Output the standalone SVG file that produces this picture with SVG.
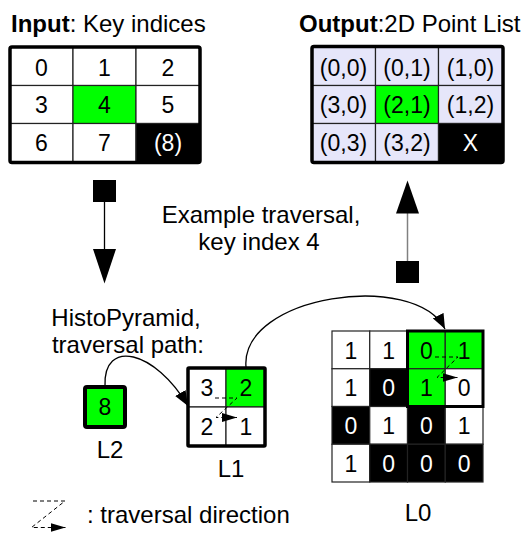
<svg xmlns="http://www.w3.org/2000/svg" width="522" height="534" viewBox="0 0 522 534">
  <defs>
    <style>
      text { font-family: "Liberation Sans", Arial, sans-serif; fill: #000; }
      .lbl { font-size: 24px; }
      .num { font-size: 23px; text-anchor: middle; }
      .inv { fill: #fff; }
      .b { font-weight: bold; }
      .cell { stroke: #222; stroke-width: 1.2; }
      .w { fill: #fff; }
      .g { fill: #00ff00; }
      .k { fill: #000; }
      .p { fill: #e6e6fa; }
      .frame { fill: none; stroke: #000; stroke-width: 3.5; }
      .curve { fill: none; stroke: #000; stroke-width: 1.3; }
      .zig { fill: none; stroke: #000; stroke-width: 1; stroke-dasharray: 4 3; }
    </style>
    <marker id="head" markerUnits="userSpaceOnUse" markerWidth="16" markerHeight="12" refX="15" refY="6" orient="auto">
      <path d="M0,0 L15,6 L0,12 z" fill="#000"/>
    </marker>
    <marker id="zhead" markerUnits="userSpaceOnUse" markerWidth="16" markerHeight="10" refX="15" refY="4.5" orient="auto">
      <path d="M0,0 L15,4.5 L0,9 z" fill="#000"/>
    </marker>
  </defs>

  <rect width="522" height="534" fill="#fff"/>

  <!-- Input: key indices -->
  <g id="input">
    <text class="lbl" x="11" y="32"><tspan class="b">Input</tspan>: Key indices</text>
    <rect class="cell w" x="10" y="47" width="63" height="38.5"/>
    <rect class="cell w" x="73" y="47" width="63" height="38.5"/>
    <rect class="cell w" x="136" y="47" width="64" height="38.5"/>
    <rect class="cell w" x="10" y="85.5" width="63" height="38"/>
    <rect class="cell g" x="73" y="85.5" width="63" height="38"/>
    <rect class="cell w" x="136" y="85.5" width="64" height="38"/>
    <rect class="cell w" x="10" y="123.5" width="63" height="39"/>
    <rect class="cell w" x="73" y="123.5" width="63" height="39"/>
    <rect class="cell k" x="136" y="123.5" width="64" height="39"/>
    <rect class="frame" x="10" y="47" width="190" height="115.5" rx="2"/>
    <text class="num" x="41.5" y="76">0</text>
    <text class="num" x="104.5" y="76">1</text>
    <text class="num" x="168" y="76">2</text>
    <text class="num" x="41.5" y="113">3</text>
    <text class="num" x="104.5" y="113">4</text>
    <text class="num" x="168" y="113">5</text>
    <text class="num" x="41.5" y="151">6</text>
    <text class="num" x="104.5" y="151">7</text>
    <text class="num inv" x="168" y="151">(8)</text>
  </g>

  <!-- Output: 2D point list -->
  <g id="output">
    <text class="lbl" x="299" y="32"><tspan class="b">Output</tspan>:2D Point List</text>
    <rect class="cell p" x="312" y="46.5" width="63.5" height="39"/>
    <rect class="cell p" x="375.5" y="46.5" width="63" height="39"/>
    <rect class="cell p" x="438.5" y="46.5" width="64.5" height="39"/>
    <rect class="cell p" x="312" y="85.5" width="63.5" height="38"/>
    <rect class="cell g" x="375.5" y="85.5" width="63" height="38"/>
    <rect class="cell p" x="438.5" y="85.5" width="64.5" height="38"/>
    <rect class="cell p" x="312" y="123.5" width="63.5" height="39"/>
    <rect class="cell p" x="375.5" y="123.5" width="63" height="39"/>
    <rect class="cell k" x="438.5" y="123.5" width="64.5" height="39"/>
    <rect class="frame" x="312" y="46.5" width="191" height="116" rx="2"/>
    <text class="num" x="343.5" y="76">(0,0)</text>
    <text class="num" x="407" y="76">(0,1)</text>
    <text class="num" x="470.5" y="76">(1,0)</text>
    <text class="num" x="343.5" y="113">(3,0)</text>
    <text class="num" x="407" y="113">(2,1)</text>
    <text class="num" x="470.5" y="113">(1,2)</text>
    <text class="num" x="343.5" y="151">(0,3)</text>
    <text class="num" x="407" y="151">(3,2)</text>
    <text class="num inv" x="470.5" y="151">X</text>
  </g>

  <g id="caption">
    <text class="lbl" x="261" y="222.5" text-anchor="middle">Example traversal,</text>
    <text class="lbl" x="259" y="249.5" text-anchor="middle">key index 4</text>
  </g>

  <g id="pyramid-caption">
    <text class="lbl" x="126" y="326" text-anchor="middle">HistoPyramid,</text>
    <text class="lbl" x="128" y="352.5" text-anchor="middle">traversal path:</text>
  </g>

  <!-- Level 2 -->
  <g id="L2">
    <rect x="85" y="387" width="40" height="40" rx="2" fill="#00ff00" stroke="#000" stroke-width="4"/>
    <text class="num" x="105" y="415">8</text>
    <text class="lbl" x="110" y="458" text-anchor="middle">L2</text>
  </g>

  <!-- Level 1 -->
  <g id="L1">
    <rect class="cell w" x="188" y="368" width="38" height="39"/>
    <rect class="cell g" x="226" y="368" width="39" height="39"/>
    <rect class="cell w" x="188" y="407" width="38" height="39"/>
    <rect class="cell w" x="226" y="407" width="39" height="39"/>
    <rect class="frame" x="188" y="368" width="77" height="78" rx="1"/>
    <text class="num" x="207" y="396">3</text>
    <text class="num" x="246" y="396">2</text>
    <text class="num" x="207" y="435">2</text>
    <text class="num" x="246" y="435">1</text>
    <text class="lbl" x="231" y="477" text-anchor="middle">L1</text>
  </g>

  <!-- Level 0 -->
  <g id="L0">
    <rect class="cell w" x="332" y="331" width="37.75" height="37.75"/>
    <rect class="cell w" x="369.75" y="331" width="37.75" height="37.75"/>
    <rect class="cell g" x="407.5" y="331" width="37.75" height="37.75"/>
    <rect class="cell g" x="445.25" y="331" width="37.75" height="37.75"/>
    <rect class="cell w" x="332" y="368.75" width="37.75" height="37.75"/>
    <rect class="cell k" x="369.75" y="368.75" width="37.75" height="37.75"/>
    <rect class="cell g" x="407.5" y="368.75" width="37.75" height="37.75"/>
    <rect class="cell w" x="445.25" y="368.75" width="37.75" height="37.75"/>
    <rect class="cell k" x="332" y="406.5" width="37.75" height="37.75"/>
    <rect class="cell w" x="369.75" y="406.5" width="37.75" height="37.75"/>
    <rect class="cell k" x="407.5" y="406.5" width="37.75" height="37.75"/>
    <rect class="cell w" x="445.25" y="406.5" width="37.75" height="37.75"/>
    <rect class="cell w" x="332" y="444.25" width="37.75" height="37.75"/>
    <rect class="cell k" x="369.75" y="444.25" width="37.75" height="37.75"/>
    <rect class="cell k" x="407.5" y="444.25" width="37.75" height="37.75"/>
    <rect class="cell k" x="445.25" y="444.25" width="37.75" height="37.75"/>
    <rect x="407.5" y="331" width="75.5" height="75.5" fill="none" stroke="#000" stroke-width="3"/>
    <text class="num" x="351" y="358.5">1</text>
    <text class="num" x="388.6" y="358.5">1</text>
    <text class="num" x="426.4" y="358.5">0</text>
    <text class="num" x="464.1" y="358.5">1</text>
    <text class="num" x="351" y="396">1</text>
    <text class="num inv" x="388.6" y="396">0</text>
    <text class="num" x="426.4" y="396">1</text>
    <text class="num" x="464.1" y="396">0</text>
    <text class="num inv" x="351" y="434">0</text>
    <text class="num" x="388.6" y="434">1</text>
    <text class="num inv" x="426.4" y="434">0</text>
    <text class="num" x="464.1" y="434">1</text>
    <text class="num" x="351" y="471.5">1</text>
    <text class="num inv" x="388.6" y="471.5">0</text>
    <text class="num inv" x="426.4" y="471.5">0</text>
    <text class="num inv" x="464.1" y="471.5">0</text>
    <text class="lbl" x="418" y="521" text-anchor="middle">L0</text>
  </g>

  <!-- Connectors -->
  <g id="connectors">
    <!-- input to traversal -->
    <rect x="93" y="180" width="23" height="22" fill="#000"/>
    <line x1="104.5" y1="202" x2="104.5" y2="250" stroke="#000" stroke-width="1.3"/>
    <polygon points="93,249 116,249 104.5,283.5" fill="#000"/>
    <!-- traversal to output -->
    <rect x="396" y="261" width="23" height="22" fill="#000"/>
    <line x1="407.5" y1="261" x2="407.5" y2="212" stroke="#808080" stroke-width="1.5"/>
    <polygon points="396,213.5 419,213.5 407.5,180.5" fill="#000"/>
    <!-- pyramid descent -->
    <path class="curve" d="M105,386 C103,338 155,350 188,406" marker-end="url(#head)"/>
    <path class="curve" d="M246,367 C240,295 415,270 445,329" marker-end="url(#head)"/>
    <!-- traversal order inside the visited cells -->
    <path class="zig" d="M215,398 H237 L216,417.5 H237" marker-end="url(#zhead)"/>
    <path class="zig" d="M435,357 H458 L437,377.5 H457.5" marker-end="url(#zhead)"/>
  </g>

  <!-- Legend -->
  <g id="legend">
    <path class="zig" d="M33,501 H65 L31.5,527.5 H65.5" marker-end="url(#zhead)"/>
    <text class="lbl" x="87" y="523">: traversal direction</text>
  </g>
</svg>
